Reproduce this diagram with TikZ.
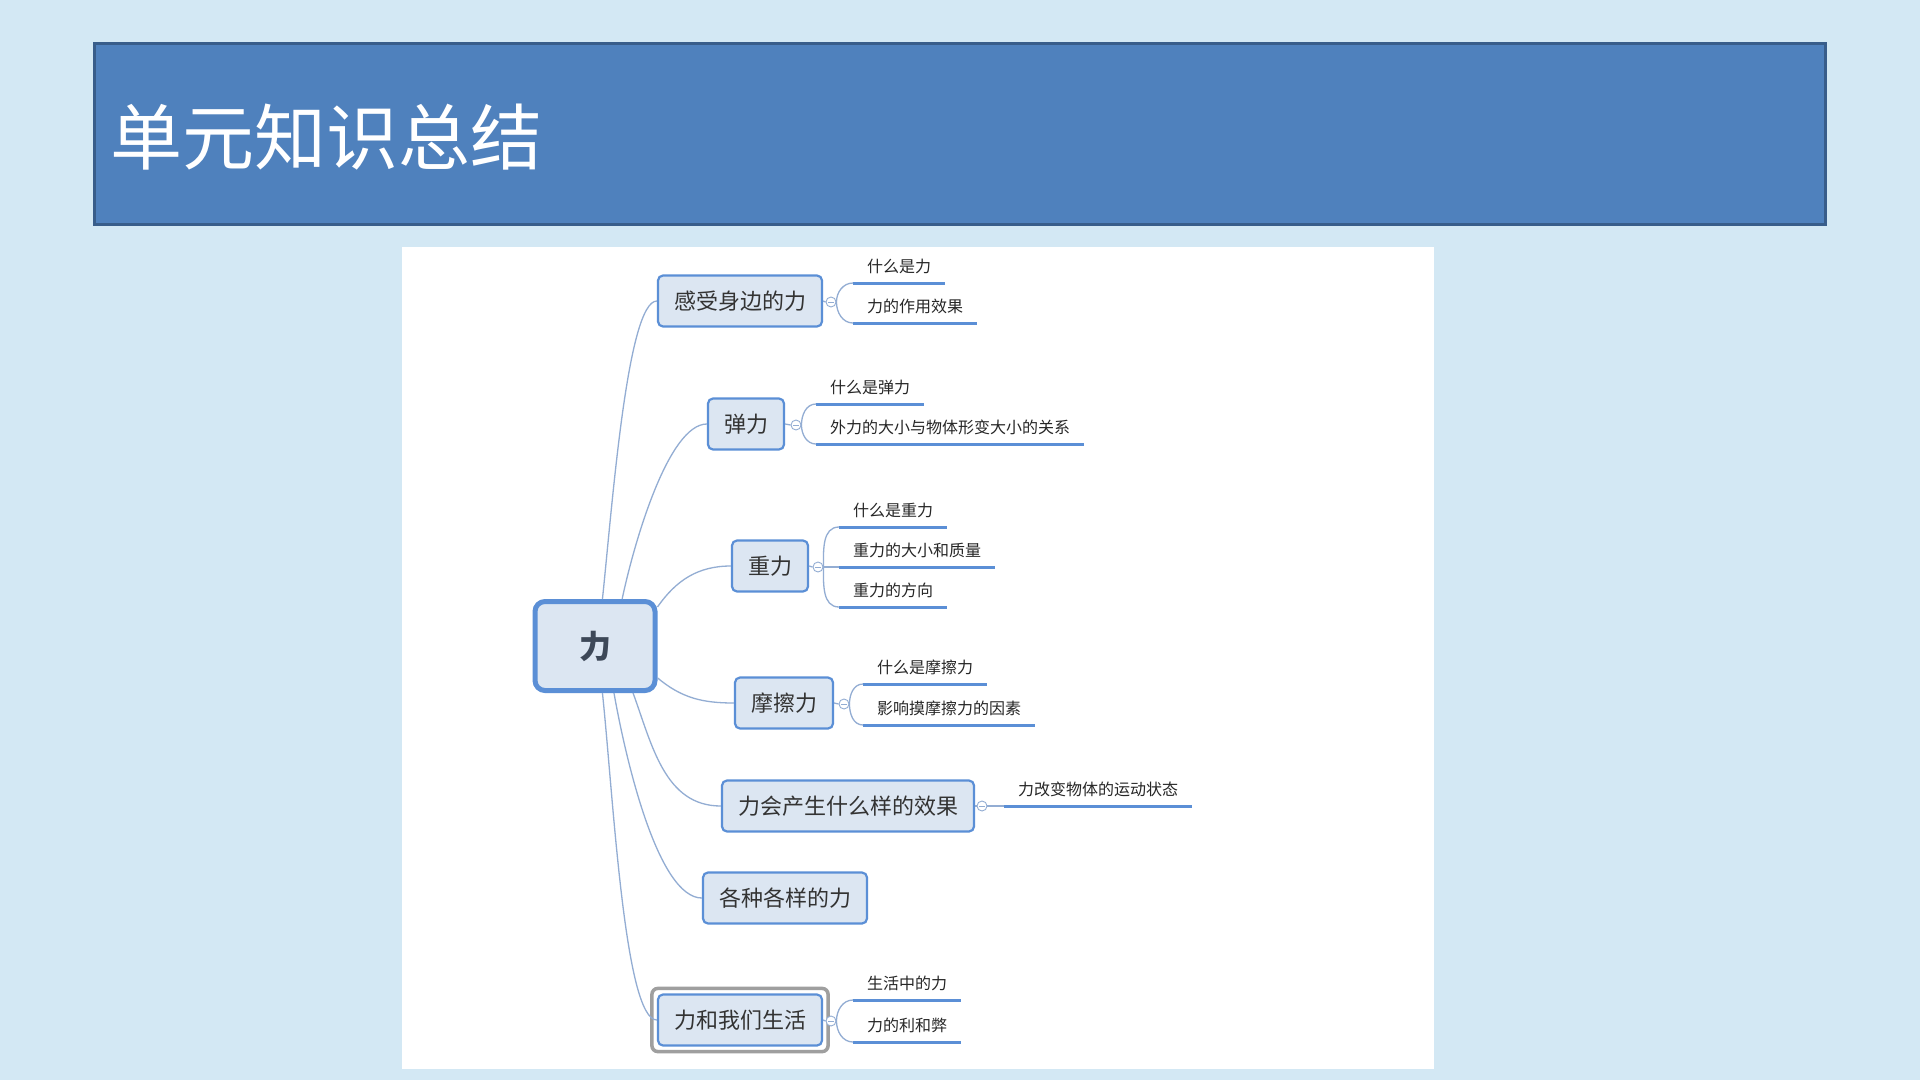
\documentclass[tikz,border=0pt]{standalone}
\usepackage{fontspec}
\usepackage{xcolor}
\usepackage{tikz}
\usetikzlibrary{positioning}
\newfontfamily\cjk{Noto Sans CJK SC}
\definecolor{pagebg}{HTML}{D3E8F4}
\definecolor{barfill}{HTML}{4F81BD}
\definecolor{barline}{HTML}{385D8A}
\definecolor{boxfill}{HTML}{DCE6F2}
\definecolor{boxline}{HTML}{5B8FD6}
\definecolor{wire}{HTML}{93ADD3}
\definecolor{inktext}{HTML}{333333}
\definecolor{roottext}{HTML}{3D4858}

\begin{document}
\begin{tikzpicture}[x=1pt, y=1pt,
		root/.style={draw=boxline, line width=5pt, fill=boxfill, rounded corners=10pt, minimum width=120pt, minimum height=89pt, text=roottext, font=\cjk\bfseries\fontsize{32}{36}\selectfont},
		topic/.style={draw=boxline, line width=2.2pt, fill=boxfill, rounded corners=5pt, inner xsep=16pt, minimum height=51pt, text=inktext, font=\cjk\fontsize{22}{26}\selectfont},
		leaf/.style={anchor=south west, inner xsep=14pt, inner ysep=7pt, text height=12pt, text depth=3pt, text=black!85, font=\cjk\fontsize{16}{18}\selectfont},
		uline/.style={draw=boxline, line width=3pt},
		fold/.style={circle, draw=wire, line width=0.9pt, fill=white, minimum size=10pt, inner sep=0pt, path picture={\draw[wire, line width=0.9pt] ([xshift=-2.6pt]path picture bounding box.center) -- ([xshift=2.6pt]path picture bounding box.center);}},
		wires/.style={draw=wire, line width=1.3pt}]
	% Background, title bar and panel:
	\fill[pagebg] (0,0) rectangle (1920,-1080);
	\useasboundingbox (0,0) rectangle (1920,-1080);
	\draw[barline, fill=barfill, line width=3pt] (94,-43) rectangle (1825,-224);
	\node[anchor=west, inner sep=0pt, text=white, font=\cjk\fontsize{72}{80}\selectfont](TT) at (110,-137){单元知识总结};
	\fill[white] (402,-247) rectangle (1434,-1069);
	% Root and topics:
	\node[root](R) at (595,-646){力};
	\node[topic](T1) at (740,-301){感受身边的力};
	\node[topic](T2) at (746,-424){弹力};
	\node[topic](T3) at (770,-566){重力};
	\node[topic](T4) at (784,-703){摩擦力};
	\node[topic](T5) at (848,-806){力会产生什么样的效果};
	\node[topic](T6) at (785,-898){各种各样的力};
	\node[topic](T7) at (740,-1020){力和我们生活};
	\draw[gray!75, line width=3.5pt, rounded corners=6pt] ([shift={(-5,5)}]T7.north west) rectangle ([shift={(5,-5)}]T7.south east);
	% Wires from the root:
	\draw[wires] (R.81) to[out=84, in=180, out looseness=0.8, in looseness=0.25] (T1.west);
	\draw[wires] (R.60) to[out=78, in=180, out looseness=0.8, in looseness=0.5] (T2.west);
	\draw[wires] (R.32) to[out=55, in=180] (T3.west);
	\draw[wires] (R.-27) to[out=-40, in=180] (T4.west);
	\draw[wires] (R.-51) to[out=-70, in=180] (T5.west);
	\draw[wires] (R.-68) to[out=-80, in=180, out looseness=0.8, in looseness=0.5] (T6.west);
	\draw[wires] (R.-81) to[out=-84, in=180, out looseness=0.8, in looseness=0.25] (T7.west);
	% Fold marks:
	\node[fold](C1) at (831,-302){};
	\node[fold](C2) at (796,-425){};
	\node[fold](C3) at (818,-567){};
	\node[fold](C4) at (844,-704){};
	\node[fold](C5) at (982,-806){};
	\node[fold](C7) at (831,-1021){};
	\draw[wires] (T1.east) -- (C1.west);
	\draw[wires] (T2.east) -- (C2.west);
	\draw[wires] (T3.east) -- (C3.west);
	\draw[wires] (T4.east) -- (C4.west);
	\draw[wires] (T5.east) -- (C5.west);
	\draw[wires] (T7.east) -- (C7.west);
	% Leaves:
	\node[leaf](S11) at (853,-283){什么是力};
	\node[leaf](S12) at (853,-323){力的作用效果};
	\node[leaf](S21) at (816,-404){什么是弹力};
	\node[leaf](S22) at (816,-444){外力的大小与物体形变大小的关系};
	\node[leaf](S31) at (839,-527){什么是重力};
	\node[leaf](S32) at (839,-567){重力的大小和质量};
	\node[leaf](S33) at (839,-607){重力的方向};
	\node[leaf](S41) at (863,-684){什么是摩擦力};
	\node[leaf](S42) at (863,-725){影响摸摩擦力的因素};
	\node[leaf](S51) at (1004,-806){力改变物体的运动状态};
	\node[leaf](S71) at (853,-1000){生活中的力};
	\node[leaf](S72) at (853,-1042){力的利和弊};
	\foreach \s in {S11,S12,S21,S22,S31,S32,S33,S41,S42,S51,S71,S72}
		\draw[uline] (\s.south west) -- (\s.south east);
	\draw[wires] (C1.east) to[out=90, in=180] (S11.south west);
	\draw[wires] (C1.east) to[out=-90, in=180] (S12.south west);
	\draw[wires] (C2.east) to[out=90, in=180] (S21.south west);
	\draw[wires] (C2.east) to[out=-90, in=180] (S22.south west);
	\draw[wires] (C3.east) to[out=90, in=180] (S31.south west);
	\draw[wires] (C3.east) -- (S32.south west);
	\draw[wires] (C3.east) to[out=-90, in=180] (S33.south west);
	\draw[wires] (C4.east) to[out=90, in=180] (S41.south west);
	\draw[wires] (C4.east) to[out=-90, in=180] (S42.south west);
	\draw[wires] (C5.east) -- (S51.south west);
	\draw[wires] (C7.east) to[out=90, in=180] (S71.south west);
	\draw[wires] (C7.east) to[out=-90, in=180] (S72.south west);
\end{tikzpicture}
\end{document}
